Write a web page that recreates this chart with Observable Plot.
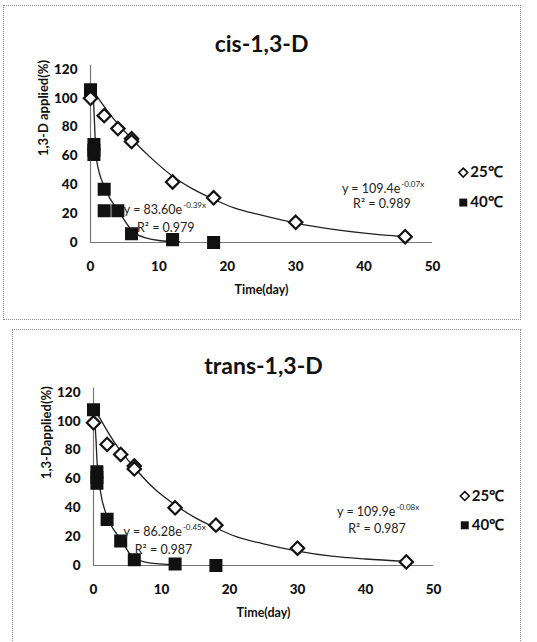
<!DOCTYPE html>
<html>
<head>
<meta charset="utf-8">
<script src="https://cdn.jsdelivr.net/npm/d3@7"></script>
<script src="https://cdn.jsdelivr.net/npm/@observablehq/plot@0.6"></script>
<style>
  body { margin: 0; background: #fff; }
  #root { position: relative; width: 537px; height: 642px; overflow: hidden; background: #fff; }
  .panel { position: absolute; border: 1px dotted #8a8a8a; box-sizing: border-box; }
  .chart { position: absolute; left: 0; }
</style>
</head>
<body>
<div id="root">
  <div class="panel" style="left:3px;top:5px;width:518px;height:315px;"></div>
  <div class="panel" style="left:12px;top:329px;width:509px;height:330px;"></div>
</div>
<script>
// ---- ticks ----
const xTicks = [0, 10, 20, 30, 40, 50];
const yTicks = [0, 20, 40, 60, 80, 100, 120];

// ---- cis-1,3-D ----
const cis25Day = [0, 2, 4, 6, 6, 12, 18, 30, 46];
const cis25Val = [100, 88, 79, 72, 70, 42, 31, 14, 4];
const cis40Day = [0, 0.5, 0.5, 0.5, 2, 2, 4, 6, 12, 18];
const cis40Val = [106, 68, 64, 61, 37, 22, 22, 6, 2, 0];
const cisFit25Day = [0, 3, 6, 9, 12, 15, 18, 21, 25, 30, 35, 40, 46];
const cisFit25Val = [108, 88, 72, 58, 46, 37, 30, 24, 19, 13.5, 9.5, 6.5, 4];
const cisFit40Day = [0, 0.4, 0.7, 0.9, 2.2, 4.2, 6.6, 10, 13];
const cisFit40Val = [106, 100, 71, 57, 37, 21, 6, 1.4, 0.5];

// ---- trans-1,3-D ----
const trans25Day = [0, 2, 4, 6, 6, 12, 18, 30, 46];
const trans25Val = [99, 84, 77, 69, 67, 40, 28, 12, 2.5];
const trans40Day = [0, 0.5, 0.5, 0.5, 2, 4, 6, 12, 18];
const trans40Val = [108, 65, 61, 57, 32, 17, 4, 1, 0];
const transFit25Day = [0, 3, 6, 9, 12, 15, 18, 21, 25, 30, 35, 40, 46];
const transFit25Val = [110, 86, 68, 53, 42, 33, 26, 20, 15, 10, 6.5, 4.5, 2.8];
const transFit40Day = [0, 0.3, 0.55, 1, 2.3, 4.2, 5.7, 8, 12];
const transFit40Val = [109, 93, 70, 52, 31, 17, 6, 2, 0.5];

// ---- labels ----
const titles = ["cis-1,3-D", "trans-1,3-D"];
const yLabels = ["1,3-D applied(%)", "1,3-Dapplied(%)"];
const xLabel = "Time(day)";
const legendLabels = ["25\u2103", "40\u2103"];
const cisEq = { base25: "y = 109.4e", exp25: "-0.07x", r25: "R\u00b2 = 0.989",
                base40: "y = 83.60e", exp40: "-0.39x", r40: "R\u00b2 = 0.979" };
const transEq = { base25: "y = 109.9e", exp25: "-0.08x", r25: "R\u00b2 = 0.987",
                  base40: "y = 86.28e", exp40: "-0.45x", r40: "R\u00b2 = 0.987" };
// annotation anchor positions in data units [day, value]
const cisEqPos = { e25: [45.3, 36.8], r25: [42.6, 26.4], e40: [13.4, 22.2], r40: [11, 10.4] };
const transEqPos = { e25: [44.4, 36.9], r25: [41.7, 25.4], e40: [13.0, 23], r40: [10.3, 10.9] };
const cisLegendPos = [[54.5, 48.5], [54.5, 27.7]];
const transLegendPos = [[54.6, 48.2], [54.6, 27.9]];

function rows(xs, ys) { return xs.map((x, i) => ({ x, y: ys[i] })); }

const FONT = "Lato, 'Open Sans', sans-serif";

function makeChart(cfg) {
  const s25 = rows(cfg.d25, cfg.v25);
  const s40 = rows(cfg.d40, cfg.v40);
  const f25 = rows(cfg.fd25, cfg.fv25);
  const f40 = rows(cfg.fd40, cfg.fv40);
  const eq = cfg.eq, ep = cfg.eqPos;
  const leg = cfg.legPos.map((p, i) => ({ x: p[0], y: p[1], label: legendLabels[i], k: i }));
  return Plot.plot({
    width: 537,
    height: cfg.height,
    marginLeft: cfg.ml,
    marginRight: cfg.mr,
    marginTop: cfg.mt,
    marginBottom: cfg.mb,
    style: { fontFamily: FONT, background: "transparent", overflow: "visible" },
    x: { domain: [0, 50], ticks: xTicks },
    y: { domain: [0, 120], ticks: yTicks },
    marks: [
      Plot.ruleY([0], { x1: 0, x2: 50, stroke: "#777", strokeWidth: 1.2 }),
      Plot.ruleX([0], { y1: 0, y2: 123, stroke: "#777", strokeWidth: 1.2 }),
      Plot.axisX({ ticks: xTicks, tickSize: 0, tickPadding: 19, fontWeight: "900", fontSize: 13.5, fill: "#111", label: null }),
      Plot.axisY({ ticks: yTicks, tickSize: 0, tickPadding: 13, fontWeight: "900", fontSize: 13.5, fill: "#111", label: null }),
      Plot.text([cfg.title], { frameAnchor: "top", dy: cfg.titleDy, fontSize: 23, fontWeight: "bold", fill: "#111" }),
      Plot.text([cfg.yLabel], { frameAnchor: "left", rotate: -90, dx: -47, fontSize: 13, fontWeight: "bold", fill: "#111" }),
      Plot.text([xLabel], { frameAnchor: "bottom", dy: 51, fontSize: 12.5, fontWeight: "bold", fill: "#111" }),
      Plot.line(f25, { x: "x", y: "y", stroke: "#222", strokeWidth: 1.3, curve: "monotone-x" }),
      Plot.line(f40, { x: "x", y: "y", stroke: "#222", strokeWidth: 1.3, curve: "monotone-x" }),
      Plot.dot(s40, { x: "x", y: "y", symbol: "square", r: 6.5, fill: "#111", stroke: "#111" }),
      Plot.dot(s25, { x: "x", y: "y", symbol: "diamond2", r: 6, fill: "#fff", stroke: "#111", strokeWidth: 2.2 }),
      Plot.text([eq.base25], { x: () => ep.e25[0], y: () => ep.e25[1], textAnchor: "end", fontSize: 12.5, fill: "#222" }),
      Plot.text([eq.exp25], { x: () => ep.e25[0], y: () => ep.e25[1], textAnchor: "start", dy: -5, dx: 1, fontSize: 8, fill: "#222" }),
      Plot.text([eq.r25], { x: () => ep.r25[0], y: () => ep.r25[1], fontSize: 12.5, fill: "#222" }),
      Plot.text([eq.base40], { x: () => ep.e40[0], y: () => ep.e40[1], textAnchor: "end", fontSize: 12.5, fill: "#222" }),
      Plot.text([eq.exp40], { x: () => ep.e40[0], y: () => ep.e40[1], textAnchor: "start", dy: -5, dx: 1, fontSize: 8, fill: "#222" }),
      Plot.text([eq.r40], { x: () => ep.r40[0], y: () => ep.r40[1], fontSize: 12.5, fill: "#222" }),
      Plot.dot(leg.filter(d => d.k === 0), { x: "x", y: "y", symbol: "diamond2", r: 4, fill: "#fff", stroke: "#111", strokeWidth: 1.6 }),
      Plot.dot(leg.filter(d => d.k === 1), { x: "x", y: "y", symbol: "square", r: 4.5, fill: "#111" }),
      Plot.text(leg, { x: "x", y: "y", text: "label", textAnchor: "start", dx: 7, fontSize: 15, fontWeight: "bold", fill: "#111" })
    ]
  });
}

const root = document.getElementById("root");

const chartTop = makeChart({
  height: 320, ml: 90, mr: 105, mt: 69, mb: 78, titleDy: -34,
  title: titles[0], yLabel: yLabels[0],
  d25: cis25Day, v25: cis25Val, d40: cis40Day, v40: cis40Val,
  fd25: cisFit25Day, fv25: cisFit25Val, fd40: cisFit40Day, fv40: cisFit40Val,
  eq: cisEq, eqPos: cisEqPos, legPos: cisLegendPos
});
chartTop.classList.add("chart");
chartTop.style.top = "0px";
root.appendChild(chartTop);

const chartBottom = makeChart({
  height: 322, ml: 93, mr: 104, mt: 72, mb: 77, titleDy: -35,
  title: titles[1], yLabel: yLabels[1],
  d25: trans25Day, v25: trans25Val, d40: trans40Day, v40: trans40Val,
  fd25: transFit25Day, fv25: transFit25Val, fd40: transFit40Day, fv40: transFit40Val,
  eq: transEq, eqPos: transEqPos, legPos: transLegendPos
});
chartBottom.classList.add("chart");
chartBottom.style.top = "320px";
root.appendChild(chartBottom);
</script>
</body>
</html>
